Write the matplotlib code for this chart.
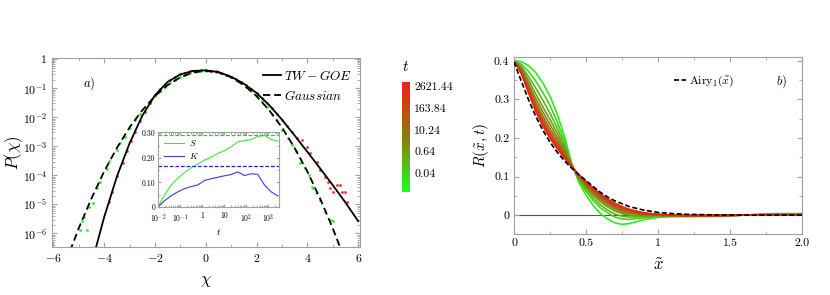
import numpy as np
import matplotlib
matplotlib.use("Agg")
import matplotlib.pyplot as plt
from matplotlib.colors import LinearSegmentedColormap, LogNorm
from matplotlib.cm import ScalarMappable
from matplotlib.ticker import FixedLocator, FixedFormatter, MultipleLocator, LogLocator, NullFormatter

plt.rcParams['font.family'] = 'serif'
plt.rcParams['font.serif'] = ['cmr10', 'DejaVu Serif']
plt.rcParams['mathtext.fontset'] = 'cm'
plt.rcParams['axes.formatter.use_mathtext'] = True

# ---- panel a) : distributions (log10 P) ----
gauss_chi = [-5.5, -5.0, -4.5, -4.0, -3.5, -3.0, -2.5, -2.0, -1.5, -1.0, -0.5, 0.0,
             0.5, 1.0, 1.5, 2.0, 2.5, 3.0, 3.5, 4.0, 4.5, 5.0, 5.5]
gauss_logP = [-6.97, -5.83, -4.80, -3.87, -3.06, -2.35, -1.76, -1.27, -0.89, -0.62, -0.45, -0.40,
              -0.45, -0.62, -0.89, -1.27, -1.76, -2.35, -3.06, -3.87, -4.80, -5.83, -6.97]

tw_chi = [-4.4, -4.25, -4.0, -3.5, -3.0, -2.5, -2.0, -1.5, -1.0, -0.5, 0.0, 0.5,
          1.0, 1.5, 2.0, 2.5, 3.0, 3.5, 4.0, 4.5, 5.0, 5.5, 6.0]
tw_logP = [-6.75, -6.26, -5.45, -4.05, -2.90, -1.95, -1.24, -0.78, -0.52, -0.40, -0.38, -0.44,
           -0.60, -0.84, -1.16, -1.58, -2.08, -2.63, -3.19, -3.76, -4.34, -4.94, -5.58]

# early-time data (green) and late-time data (red)
green_chi = [-4.95, -4.88, -4.78, -4.69, -4.58, -4.45, -4.29, -4.16, -3.90, -3.80, -3.51, -3.38, -3.18, -2.98,
             -2.8, -2.6, -2.4, -2.2, -2.0, -1.8, -1.6, -1.4, -1.2, -1.0, -0.8, -0.6, -0.4, -0.2, 0.0,
             0.2, 0.4, 0.6, 0.8, 1.0, 1.2, 1.4, 1.6, 1.8, 2.0, 2.2, 2.4, 2.6, 2.8,
             3.02, 3.25, 3.38, 3.55, 3.71, 3.90, 4.05, 4.17, 4.23, 4.33, 4.49, 4.69, 4.91, 5.02]
green_logP = [-5.89, -5.58, -5.43, -5.89, -5.08, -4.97, -4.45, -4.22, -3.79, -3.51, -3.13, -2.90, -2.67, -2.38,
              -2.10, -1.87, -1.65, -1.45, -1.27, -1.10, -0.96, -0.83, -0.71, -0.62, -0.54, -0.48, -0.43, -0.41, -0.40,
              -0.41, -0.43, -0.48, -0.54, -0.62, -0.71, -0.83, -0.96, -1.10, -1.27, -1.45, -1.65, -1.87, -2.10,
              -2.44, -2.72, -2.96, -3.15, -3.59, -3.75, -4.00, -4.39, -4.45, -4.60, -4.85, -5.25, -5.54, -5.56]

red_chi = [-3.80, -3.70, -3.51, -3.27, -3.09, -2.95,
           -2.8, -2.6, -2.4, -2.2, -2.0, -1.8, -1.6, -1.4, -1.2, -1.0, -0.8, -0.6, -0.4, -0.2, 0.0,
           0.2, 0.4, 0.6, 0.8, 1.0, 1.2, 1.4, 1.6, 1.8, 2.0, 2.2, 2.4, 2.6, 2.8,
           3.0, 3.2, 3.4, 3.6, 3.77, 3.97, 4.10, 4.36, 4.49, 4.69, 4.82, 4.89, 4.99, 5.15, 5.28, 5.38, 5.47, 5.57]
red_logP = [-4.93, -4.57, -4.02, -3.59, -3.15, -2.80,
            -2.50, -2.12, -1.80, -1.51, -1.24, -1.03, -0.86, -0.72, -0.61, -0.52, -0.46, -0.42, -0.39, -0.38, -0.38,
            -0.39, -0.42, -0.47, -0.53, -0.60, -0.69, -0.79, -0.90, -1.02, -1.16, -1.32, -1.49, -1.67, -1.87,
            -2.10, -2.30, -2.50, -2.72, -2.78, -3.01, -3.24, -3.53, -3.82, -4.05, -4.22, -4.45, -4.57, -4.33, -4.33,
            -4.57, -4.57, -4.91]

# inset: skewness S and kurtosis K vs t
inset_t = [0.01, 0.02, 0.04, 0.08, 0.16, 0.32, 0.64, 1.28, 2.56, 5.12, 10.24, 20.48, 40.96,
           81.92, 163.84, 327.68, 655.36, 1310.72, 2621.44]
S_vals = [0.0, 0.050, 0.090, 0.118, 0.140, 0.160, 0.175, 0.190, 0.204, 0.218, 0.230, 0.245, 0.265,
          0.270, 0.274, 0.287, 0.291, 0.275, 0.268]
K_vals = [0.0, 0.026, 0.046, 0.062, 0.075, 0.083, 0.090, 0.108, 0.115, 0.121, 0.127, 0.132, 0.143,
          0.128, 0.135, 0.133, 0.090, 0.062, 0.045]
S_goe = 0.2935
K_goe = 0.1652

# ---- panel b) : R(x, t) ----
x_grid = [0, 0.05, 0.1, 0.15, 0.2, 0.25, 0.3, 0.35, 0.4, 0.45, 0.5, 0.55, 0.6, 0.65, 0.7, 0.75,
          0.8, 0.9, 1.0, 1.1, 1.2, 1.4, 1.6, 1.8, 2.0]
R_times = [0.01, 0.04, 0.16, 0.64, 2.56, 10.24, 40.96, 163.84, 655.36, 2621.44]
R_curves = [
    [0.400, 0.398, 0.388, 0.370, 0.343, 0.308, 0.262, 0.205, 0.135, 0.085, 0.052, 0.025, 0.004, -0.010, -0.020, -0.024,
     -0.022, -0.012, -0.006, -0.004, -0.004, -0.003, 0.000, 0.004, 0.004],
    [0.400, 0.391, 0.373, 0.348, 0.318, 0.284, 0.242, 0.192, 0.133, 0.091, 0.062, 0.038, 0.019, 0.006, -0.005, -0.010,
     -0.011, -0.007, -0.004, -0.003, -0.003, -0.002, 0.000, 0.003, 0.003],
    [0.400, 0.386, 0.360, 0.330, 0.298, 0.264, 0.226, 0.182, 0.131, 0.094, 0.068, 0.045, 0.027, 0.013, 0.003, -0.003,
     -0.005, -0.004, -0.002, -0.002, -0.003, -0.002, 0.000, 0.002, 0.002],
    [0.400, 0.382, 0.350, 0.315, 0.281, 0.248, 0.213, 0.174, 0.130, 0.097, 0.073, 0.052, 0.035, 0.021, 0.011, 0.004,
     0.000, -0.001, -0.001, -0.002, -0.002, -0.002, 0.000, 0.002, 0.002],
    [0.400, 0.378, 0.341, 0.303, 0.268, 0.235, 0.202, 0.167, 0.128, 0.099, 0.076, 0.056, 0.040, 0.026, 0.016, 0.008,
     0.004, 0.001, 0.000, -0.001, -0.002, -0.002, 0.000, 0.001, 0.001],
    [0.400, 0.375, 0.334, 0.293, 0.257, 0.224, 0.193, 0.161, 0.127, 0.101, 0.079, 0.060, 0.044, 0.031, 0.020, 0.012,
     0.007, 0.002, 0.000, -0.001, -0.002, -0.001, 0.000, 0.001, 0.001],
    [0.400, 0.373, 0.329, 0.285, 0.248, 0.215, 0.186, 0.157, 0.127, 0.102, 0.082, 0.063, 0.047, 0.034, 0.023, 0.015,
     0.010, 0.003, 0.001, -0.001, -0.001, -0.001, 0.000, 0.001, 0.001],
    [0.400, 0.371, 0.324, 0.279, 0.241, 0.209, 0.180, 0.153, 0.126, 0.103, 0.084, 0.066, 0.050, 0.037, 0.026, 0.018,
     0.012, 0.004, 0.001, 0.000, -0.001, -0.001, 0.000, 0.000, 0.000],
    [0.400, 0.369, 0.321, 0.274, 0.236, 0.203, 0.176, 0.150, 0.125, 0.104, 0.086, 0.068, 0.053, 0.040, 0.029, 0.020,
     0.014, 0.005, 0.002, 0.000, -0.001, -0.001, 0.000, 0.000, 0.000],
    [0.400, 0.368, 0.318, 0.270, 0.231, 0.199, 0.172, 0.148, 0.125, 0.105, 0.087, 0.070, 0.055, 0.042, 0.031, 0.022,
     0.015, 0.006, 0.002, 0.000, -0.001, -0.001, 0.000, 0.000, 0.000],
]
airy_x = [0, 0.05, 0.1, 0.15, 0.2, 0.25, 0.3, 0.35, 0.4, 0.45, 0.5, 0.55, 0.6, 0.65, 0.7, 0.8,
          0.9, 1.0, 1.1, 1.2, 1.4, 1.6, 1.8, 2.0]
airy_vals = [0.397, 0.348, 0.300, 0.257, 0.220, 0.189, 0.163, 0.141, 0.122, 0.105, 0.090, 0.074, 0.059, 0.047,
             0.037, 0.022, 0.013, 0.007, 0.004, 0.002, 0.0005, 0.0, 0.0, 0.0]

cbar_ticks = [0.04, 0.64, 10.24, 163.84, 2621.44]

cmap = LinearSegmentedColormap.from_list('gr', ['#1eff1e', '#8c7a12', '#f71c14'])
norm = LogNorm(vmin=0.0036, vmax=4800)
frame_col = '#a0a0a0'


def style_axes(ax, size):
    for s in ax.spines.values():
        s.set_color(frame_col)
        s.set_linewidth(0.8)
    ax.tick_params(which='both', direction='in', color=frame_col, labelsize=size,
                   top=True, right=True)
    ax.tick_params(which='major', length=3.5)
    ax.tick_params(which='minor', length=2)


W, H = 830, 295
fig = plt.figure(figsize=(8.3, 2.95), dpi=100)

# ---------------- panel a ----------------
axA = fig.add_axes([52 / W, 1 - 247 / H, 308 / W, 189 / H])
axA.set_yscale('log')
axA.plot(green_chi, 10.0 ** np.array(green_logP), 'o', ms=2.0, mew=0, color='#30ee30', zorder=2)
axA.plot(red_chi, 10.0 ** np.array(red_logP), 'o', ms=2.0, mew=0, color='#ff2a2a', zorder=2)
axA.plot(tw_chi, 10.0 ** np.array(tw_logP), color='black', lw=1.3, label=r'$TW - GOE$', zorder=3)
axA.plot(gauss_chi, 10.0 ** np.array(gauss_logP), color='black', lw=1.3, dashes=(4, 2.2),
         label=r'$Gaussian$', zorder=3)
axA.set_xlim(-6.05, 6.07)
axA.set_ylim(10 ** -6.47, 10 ** 0.045)
axA.xaxis.set_major_locator(MultipleLocator(2))
axA.xaxis.set_minor_locator(MultipleLocator(1))
axA.yaxis.set_major_locator(FixedLocator([10.0 ** -k for k in range(0, 7)]))
axA.yaxis.set_major_formatter(FixedFormatter(['1'] + [r'$10^{-%d}$' % k for k in range(1, 7)]))
axA.yaxis.set_minor_locator(LogLocator(base=10, subs=np.arange(2, 10)))
axA.yaxis.set_minor_formatter(NullFormatter())
style_axes(axA, 8.5)
axA.set_xlabel(r'$\chi$', fontsize=12, labelpad=7)
axA.set_ylabel(r'$P(\chi)$', fontsize=12)
axA.yaxis.set_label_coords(-0.088, 0.5)
axA.text(-4.6, 0.15, r'$a)$', fontsize=9, ha='center', va='center')
axA.legend(loc='upper right', bbox_to_anchor=(1.0, 0.985), frameon=False, fontsize=9.5,
           handlelength=1.3, handletextpad=0.3, labelspacing=0.45, borderaxespad=0.2)

# inset
axI = fig.add_axes([158 / W, 1 - 207 / H, 121 / W, 75 / H])
axI.set_xscale('log')
axI.plot(inset_t, S_vals, color='#44e044', lw=0.8, label=r'$S$')
axI.plot(inset_t, K_vals, color='#3a3aee', lw=0.8, label=r'$K$')
axI.axhline(S_goe, color='#2ec42e', lw=0.9, dashes=(3, 1.5))
axI.axhline(K_goe, color='#2020cc', lw=0.9, dashes=(3, 1.5))
axI.set_xlim(0.01, 3000)
axI.set_ylim(0, 0.305)
axI.xaxis.set_major_locator(FixedLocator([0.01, 0.1, 1, 10, 100, 1000]))
axI.xaxis.set_major_formatter(FixedFormatter([r'$10^{-2}$', r'$10^{-1}$', '1', '10', r'$10^{2}$', r'$10^{3}$']))
axI.xaxis.set_minor_locator(LogLocator(base=10, subs=np.arange(2, 10)))
axI.xaxis.set_minor_formatter(NullFormatter())
axI.yaxis.set_major_locator(FixedLocator([0, 0.1, 0.2, 0.3]))
axI.yaxis.set_major_formatter(FixedFormatter(['0', '0.10', '0.20', '0.30']))
axI.yaxis.set_minor_locator(MultipleLocator(0.05))
style_axes(axI, 5.5)
axI.tick_params(which='major', length=2)
axI.tick_params(which='minor', length=1.2)
axI.tick_params(axis='x', pad=3.5)
axI.tick_params(axis='y', pad=2)
axI.set_xlabel(r'$t$', fontsize=7, labelpad=2)
axI.legend(loc='upper left', bbox_to_anchor=(0.0, 1.0), frameon=False, fontsize=6.5,
           handlelength=2.2, handletextpad=0.5, labelspacing=0.3, borderaxespad=0.3)

# colorbar
cax = fig.add_axes([402 / W, 1 - 192 / H, 8 / W, 110 / H])
cb = fig.colorbar(ScalarMappable(norm=norm, cmap=cmap), cax=cax)
cb.set_ticks(cbar_ticks)
cb.set_ticklabels(['%g' % v for v in cbar_ticks])
cax.minorticks_off()
cb.outline.set_visible(False)
cax.tick_params(length=0, labelsize=8.5, pad=3)
cax.set_title(r'$t$', fontsize=11, pad=8)

# ---------------- panel b ----------------
axB = fig.add_axes([514 / W, 1 - 234 / H, 288 / W, 177 / H])
axB.axhline(0, color='#555555', lw=0.8, zorder=1)
for tv, rv in zip(R_times, R_curves):
    axB.plot(x_grid, rv, color=cmap(norm(tv)), lw=1.2, zorder=2)
axB.plot(airy_x, airy_vals, color='black', lw=1.2, dashes=(3, 1.5), zorder=3,
         label=r'$\mathrm{Airy}_1(\tilde{x})$')
axB.set_xlim(0, 2)
axB.set_ylim(-0.049, 0.41)
axB.xaxis.set_major_locator(FixedLocator([0, 0.5, 1, 1.5, 2.0]))
axB.xaxis.set_major_formatter(FixedFormatter(['0', '0.5', '1', '1.5', '2.0']))
axB.xaxis.set_minor_locator(MultipleLocator(0.25))
axB.yaxis.set_major_locator(FixedLocator([0, 0.1, 0.2, 0.3, 0.4]))
axB.yaxis.set_major_formatter(FixedFormatter(['0', '0.1', '0.2', '0.3', '0.4']))
axB.yaxis.set_minor_locator(MultipleLocator(0.05))
style_axes(axB, 8.5)
axB.set_xlabel(r'$\tilde{x}$', fontsize=12, labelpad=6)
axB.set_ylabel(r'$R(\tilde{x},t)$', fontsize=11)
axB.yaxis.set_label_coords(-0.08, 0.5)
axB.text(1.856, 0.346, r'$b)$', fontsize=9, ha='center', va='center')
axB.legend(loc='center left', bbox_to_anchor=(0.555, 0.86), frameon=False, fontsize=8.5,
           handlelength=1.0, handletextpad=0.3, borderaxespad=0, borderpad=0)

fig.savefig('out.png', dpi=100)
